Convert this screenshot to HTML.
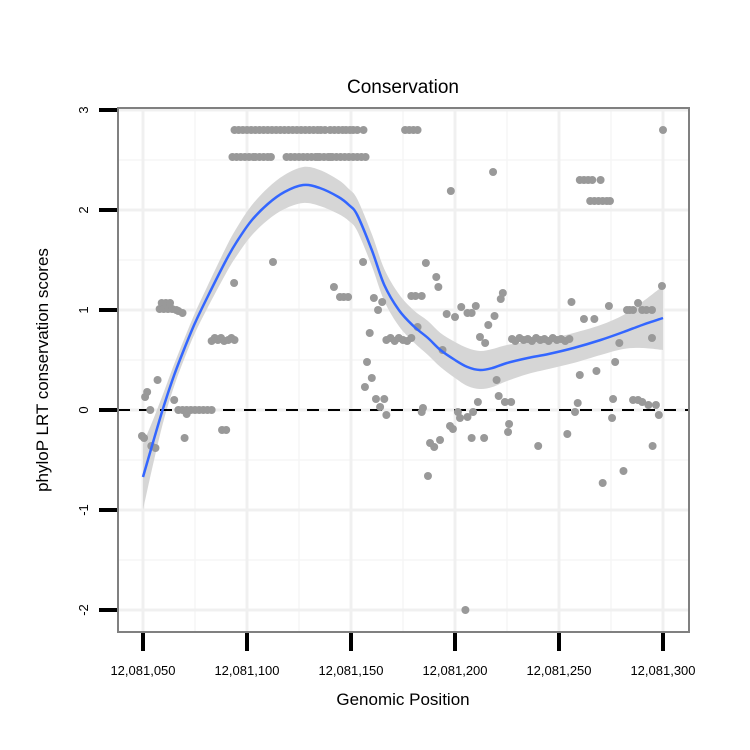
<!DOCTYPE html>
<html><head><meta charset="utf-8"><style>
html,body{margin:0;padding:0;background:#fff}
svg{display:block;font-family:"Liberation Sans",sans-serif}
</style></head><body>
<svg id="chart" width="750" height="750">
<defs><clipPath id="panelClip"><rect x="118" y="108" width="571" height="524"/></clipPath></defs>
<rect x="0" y="0" width="750" height="750" fill="#fff"/>
<text x="403" y="93" text-anchor="middle" font-size="19" fill="#000">Conservation</text>
<g id="grid" clip-path="url(#panelClip)"></g>
<g id="band" clip-path="url(#panelClip)"></g>
<line x1="118" x2="689" y1="410" y2="410" stroke="#000" stroke-width="2" stroke-dasharray="12,9"/>
<g id="pts"></g>
<g id="fit"></g>
<rect x="118" y="108" width="571" height="524" fill="none" stroke="#808080" stroke-width="2"/>
<g id="axes"></g>
<text x="403" y="705" text-anchor="middle" font-size="17">Genomic Position</text>
<text transform="translate(48,370) rotate(-90)" text-anchor="middle" font-size="17">phyloP LRT conservation scores</text>
</svg>
<script>
const BASE = 12081000;
const xTicks = [50,100,150,200,250,300];
const xTickLabels = ["12,081,050","12,081,100","12,081,150","12,081,200","12,081,250","12,081,300"];
const yTicks = [-2,-1,0,1,2,3];
const yTickLabels = ["-2","-1","0","1","2","3"];
const pointX = [49.5,50.5,51,52,53.5,54,56,57,58,59,60,61,62,63,64,66,67,69,65,70,71,
 67,69,71,73,75,77,79,81,83,
 83,84.5,86,87.5,89,91,92.5,94,88,90,93.8,
 94,96,98,100,102,104,106,108,110,112,114,116,118,120,122,124,126,128,130,132,134,135.5,137.5,140,142,144,146,147.6,149.5,151,153,156,176,178,180,182,300,
 93,95,97,99,101,103,104,106,108,110,111.5,119,121,123,125,127,129,131,133,134,135,137,139,140,141,143,145,147,149,151,153,155,157,
 112.5,155.8,141.8,144.7,146.5,148.6,161,165,163,159,157.7,160,156.7,162,166,164,167,
 167,169,171,173,175,177,179,
 218.3,198,260,262,264,266,270,265,267,269,271,273,274.5,186,191,192,179,181,184,223,222,196,200,203,206,208,210,219,216,182,212,214.5,194,
 227.4,229,231,233,235,237,239,241,243,245,247,249,251,253,255,
 256,262,267,274,282.7,284,285.6,288,290,292,294.7,299.5,294.7,279,277,260,268,
 220,221,224,227,184.6,184,211,208.7,201.4,206,202.4,197.6,199,188,190,192.8,208,214,226,225.5,240,259,257.7,254,276,275.5,285.6,288,290,293,296.6,298,295,187,281,271,205];
const pointY = [-0.26,-0.28,0.13,0.18,0.0,-0.36,-0.38,0.3,1.01,1.07,1.01,1.07,1.01,1.07,1.01,1.0,0.99,0.97,0.1,-0.28,-0.04,
 0,0,0,0,0,0,0,0,0,
 0.69,0.72,0.7,0.72,0.69,0.7,0.72,0.7,-0.2,-0.2,1.27,
 2.8,2.8,2.8,2.8,2.8,2.8,2.8,2.8,2.8,2.8,2.8,2.8,2.8,2.8,2.8,2.8,2.8,2.8,2.8,2.8,2.8,2.8,2.8,2.8,2.8,2.8,2.8,2.8,2.8,2.8,2.8,2.8,2.8,2.8,2.8,2.8,2.8,
 2.53,2.53,2.53,2.53,2.53,2.53,2.53,2.53,2.53,2.53,2.53,2.53,2.53,2.53,2.53,2.53,2.53,2.53,2.53,2.53,2.53,2.53,2.53,2.53,2.53,2.53,2.53,2.53,2.53,2.53,2.53,2.53,2.53,
 1.48,1.48,1.23,1.13,1.13,1.13,1.12,1.08,1.0,0.77,0.48,0.32,0.23,0.11,0.11,0.03,-0.05,
 0.7,0.72,0.69,0.72,0.7,0.69,0.72,
 2.38,2.19,2.3,2.3,2.3,2.3,2.3,2.09,2.09,2.09,2.09,2.09,2.09,1.47,1.33,1.23,1.14,1.14,1.14,1.17,1.11,0.96,0.93,1.03,0.97,0.97,1.04,0.94,0.85,0.83,0.73,0.67,0.6,
 0.71,0.69,0.72,0.7,0.71,0.69,0.72,0.7,0.71,0.69,0.72,0.7,0.71,0.69,0.71,
 1.08,0.91,0.91,1.04,1.0,1.0,1.0,1.07,1.0,1.0,1.0,1.24,0.72,0.67,0.48,0.35,0.39,
 0.3,0.14,0.08,0.08,0.02,-0.02,0.08,-0.02,-0.02,-0.07,-0.08,-0.16,-0.19,-0.33,-0.37,-0.3,-0.28,-0.28,-0.14,-0.22,-0.36,0.07,-0.02,-0.24,0.11,-0.08,0.1,0.1,0.08,0.05,0.05,-0.05,-0.36,-0.66,-0.61,-0.73,-2.0];
const fitX = [50,55,60,65,70,75,81,90,95,102,110,118,127,135,144,149,153,160,166,173,180,187,193,200,206,212,218,225,235,245,257,270,281,290,300];
const fitY = [-0.67,-0.31,0.04,0.35,0.62,0.87,1.13,1.5,1.68,1.89,2.06,2.18,2.25,2.22,2.13,2.05,1.95,1.6,1.25,1.0,0.84,0.72,0.6,0.5,0.43,0.4,0.42,0.47,0.52,0.56,0.62,0.7,0.78,0.85,0.92];
const fitSE = [0.33,0.22,0.14,0.11,0.1,0.1,0.11,0.13,0.14,0.15,0.16,0.17,0.18,0.18,0.17,0.16,0.16,0.16,0.16,0.16,0.16,0.17,0.17,0.18,0.19,0.19,0.19,0.18,0.16,0.15,0.15,0.15,0.17,0.23,0.32];

const sx = v => 143 + (v-50)*2.08;
const sy = v => 410 - v*100;
const NS = "http://www.w3.org/2000/svg";
function mk(tag, parent, attrs){const e=document.createElementNS(NS,tag);for(const k in attrs)e.setAttribute(k,attrs[k]);parent.appendChild(e);return e;}
function smoothPath(P, start){
  let d = (start?'M':'L')+P[0][0]+','+P[0][1];
  for (let i=0;i<P.length-1;i++){
    const p0=P[Math.max(0,i-1)],p1=P[i],p2=P[i+1],p3=P[Math.min(P.length-1,i+2)];
    const c1=[p1[0]+(p2[0]-p0[0])/6,p1[1]+(p2[1]-p0[1])/6];
    const c2=[p2[0]-(p3[0]-p1[0])/6,p2[1]-(p3[1]-p1[1])/6];
    d+='C'+c1[0]+','+c1[1]+' '+c2[0]+','+c2[1]+' '+p2[0]+','+p2[1];
  }
  return d;
}

const grid = document.getElementById('grid');
for (const v of [25,75,125,175,225,275,325]){ const l=mk('line',grid,{x1:sx(v),x2:sx(v),y1:108,y2:632,stroke:'#f5f5f5','stroke-width':1.5});

 }
for (const v of [-2.5,-1.5,-0.5,0.5,1.5,2.5]){ const l=mk('line',grid,{x1:118,x2:689,y1:sy(v),y2:sy(v),stroke:'#f5f5f5','stroke-width':1.5});

 }
for (const v of xTicks){ const l=mk('line',grid,{x1:sx(v),x2:sx(v),y1:108,y2:632,stroke:'#f0f0f0','stroke-width':3});

 }
for (const v of yTicks){ const l=mk('line',grid,{x1:118,x2:689,y1:sy(v),y2:sy(v),stroke:'#f0f0f0','stroke-width':3});

 }

const band = document.getElementById('band');
const upper = fitX.map((x,i)=>[sx(x),sy(fitY[i]+fitSE[i])]);
const lower = fitX.map((x,i)=>[sx(x),sy(fitY[i]-fitSE[i])]).reverse();
const bp = mk('path',band,{d:smoothPath(upper,true)+smoothPath(lower,false)+'Z',fill:'#d6d6d6'});



const pts = document.getElementById('pts');
pointX.forEach((x,i)=>{
  const c = mk('circle',pts,{cx:sx(x),cy:sy(pointY[i]),r:4,fill:'#999999'});
  
  
});

const fit = document.getElementById('fit');
const center = fitX.map((x,i)=>[sx(x),sy(fitY[i])]);
const fl = mk('path',fit,{d:smoothPath(center,true),fill:'none',stroke:'#3366ff','stroke-width':2.5,'stroke-linejoin':'round'});



const axes = document.getElementById('axes');
xTicks.forEach((v,i)=>{
  const t = mk('line',axes,{x1:sx(v),x2:sx(v),y1:633,y2:651,stroke:'#000','stroke-width':4});
  
  
  const lb = mk('text',axes,{x:sx(v),y:675,'text-anchor':'middle','font-size':13});
  lb.textContent = xTickLabels[i];
  
  
});
yTicks.forEach((v,i)=>{
  const t = mk('line',axes,{x1:99,x2:117,y1:sy(v),y2:sy(v),stroke:'#000','stroke-width':4});
  
  
  const lb = mk('text',axes,{transform:'translate(88,'+sy(v)+') rotate(-90)','text-anchor':'middle','font-size':13});
  lb.textContent = yTickLabels[i];
  
  
});
</script>
</body></html>
